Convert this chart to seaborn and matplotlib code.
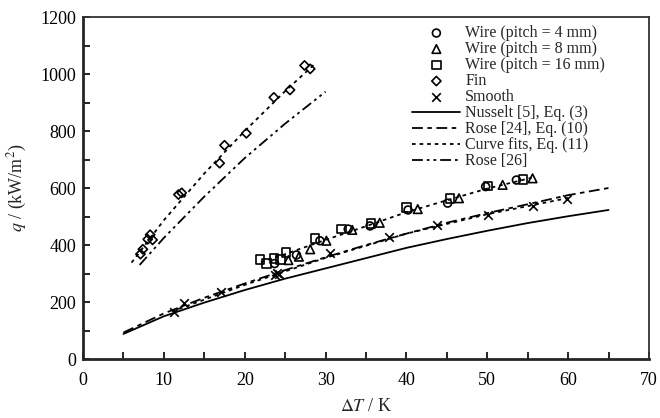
import matplotlib
matplotlib.use('Agg')
import matplotlib.pyplot as plt
from matplotlib.ticker import MultipleLocator
import seaborn as sns
import numpy as np
import pandas as pd

wire4_dt = [23.7, 26.4, 29.3, 32.8, 35.5, 40.2, 45.1, 49.8, 53.6]
wire4_q = [335, 365, 415, 456, 467, 523, 547, 605, 628]
wire8_dt = [25.4, 26.7, 28.1, 30.1, 33.3, 36.7, 41.4, 46.5, 51.9, 55.6]
wire8_q = [347, 359, 385, 415, 453, 478, 526, 564, 611, 634]
wire16_dt = [21.9, 22.7, 23.6, 24.4, 25.1, 28.7, 32.0, 35.6, 40.0, 45.4, 50.1, 54.4]
wire16_q = [350, 335, 353, 350, 373, 423, 456, 476, 532, 564, 607, 630]
fin_dt = [7.1, 7.4, 8.0, 8.3, 8.6, 11.8, 12.2, 16.9, 17.5, 20.2, 23.6, 25.6, 27.4, 28.1]
fin_q = [368, 385, 420, 436, 418, 577, 583, 687, 750, 792, 918, 944, 1030, 1018]
smooth_dt = [11.3, 12.5, 17.1, 23.7, 24.0, 24.3, 30.5, 37.9, 43.8, 50.1, 55.7, 59.8]
smooth_q = [166, 195, 236, 296, 302, 299, 373, 429, 470, 505, 537, 560]

# --- 理論・相関式の線---
nusselt_dt = [5, 10, 15, 20, 25, 30, 35, 40, 45, 50, 55, 60, 65]
nusselt_q = [88, 150, 198, 242, 282, 318, 354, 390, 421, 450, 477, 501, 523]
rose24_dt = [5, 10, 15, 20, 25, 30, 35, 40, 45, 50, 55, 60, 65]
rose24_q = [93, 160, 215, 265, 312, 357, 400, 440, 478, 512, 543, 575, 600]
fit_fin_dt = [6, 10, 15, 20, 25, 28.5]
fit_fin_q = [338, 487, 651, 800, 940, 1031]
fit_wire_dt = [22, 25, 30, 35, 40, 45, 50, 55.5]
fit_wire_q = [340, 368, 418, 466, 515, 557, 598, 636]
fit_smooth_dt = [11, 20, 30, 40, 50, 60]
fit_smooth_q = [167, 260, 355, 440, 508, 565]
rose26_dt = [7, 10, 15, 20, 25, 30]
rose26_q = [330, 425, 570, 705, 826, 938]

sns.set_style('ticks')
plt.rcParams['font.family'] = ['Liberation Serif', 'DejaVu Serif']
plt.rcParams['mathtext.fontset'] = 'stix'

fig = plt.figure(figsize=(6.6, 4.18), dpi=100)
ax = fig.add_axes([0.1258, 0.1411, 0.8575, 0.8182])

mk = dict(facecolor='none', edgecolor='black', linewidth=1.2, ax=ax)
sns.scatterplot(x=wire4_dt, y=wire4_q, marker='o', s=32, label='Wire (pitch = 4 mm)', **mk)
sns.scatterplot(x=wire8_dt, y=wire8_q, marker='^', s=38, label='Wire (pitch = 8 mm)', **mk)
sns.scatterplot(x=wire16_dt, y=wire16_q, marker='s', s=38, label='Wire (pitch = 16 mm)', **mk)
sns.scatterplot(x=fin_dt, y=fin_q, marker='D', s=22, label='Fin', **mk)
sns.scatterplot(x=smooth_dt, y=smooth_q, marker='x', s=38, color='black', linewidth=1.2,
                label='Smooth', ax=ax)

lw = 1.3
sns.lineplot(x=nusselt_dt, y=nusselt_q, color='black', lw=lw, label='Nusselt [5], Eq. (3)', ax=ax)
sns.lineplot(x=rose24_dt, y=rose24_q, color='black', lw=lw, ax=ax,
             label='Rose [24], Eq. (10)').lines[-1].set_dashes([6, 2.5, 2.5, 2.5])
l_fit = sns.lineplot(x=fit_fin_dt, y=fit_fin_q, color='black', lw=lw, ax=ax,
                     label='Curve fits, Eq. (11)').lines[-1]
l_fit.set_dashes([2, 2.2])
for xs, ys in [(fit_wire_dt, fit_wire_q), (fit_smooth_dt, fit_smooth_q)]:
    sns.lineplot(x=xs, y=ys, color='black', lw=lw, ax=ax, legend=False).lines[-1].set_dashes([2, 2.2])
sns.lineplot(x=rose26_dt, y=rose26_q, color='black', lw=lw, ax=ax,
             label='Rose [26]').lines[-1].set_dashes([6, 2.2, 1.5, 2.2, 1.5, 2.2])

ax.set_xlim(0, 70)
ax.set_ylim(0, 1200)
ax.xaxis.set_major_locator(MultipleLocator(10))
ax.xaxis.set_minor_locator(MultipleLocator(5))
ax.yaxis.set_major_locator(MultipleLocator(200))
ax.yaxis.set_minor_locator(MultipleLocator(100))
ax.tick_params(which='both', direction='in', length=5, width=1.2, labelsize=13, colors='black')
ax.tick_params(axis='x', pad=9)
ax.tick_params(axis='y', pad=5)
for side in ['left', 'bottom']:
    ax.spines[side].set_linewidth(2)
for side in ['top', 'right']:
    ax.spines[side].set_linewidth(1.3)
    ax.spines[side].set_color('#333333')

ax.set_xlabel(r'$\Delta T$ / K', fontsize=13, labelpad=7)
ax.set_ylabel(r'$q$ / (kW/m$^2$)', fontsize=13, labelpad=8)

handles, labels = ax.get_legend_handles_labels()
ax.legend(handles, labels, loc='upper left', bbox_to_anchor=(0.582, 0.976), frameon=False,
          fontsize=11.5, labelspacing=0.0, handlelength=3.0, handletextpad=0.3,
          borderpad=0, borderaxespad=0)

fig.savefig('out.png', dpi=100)
